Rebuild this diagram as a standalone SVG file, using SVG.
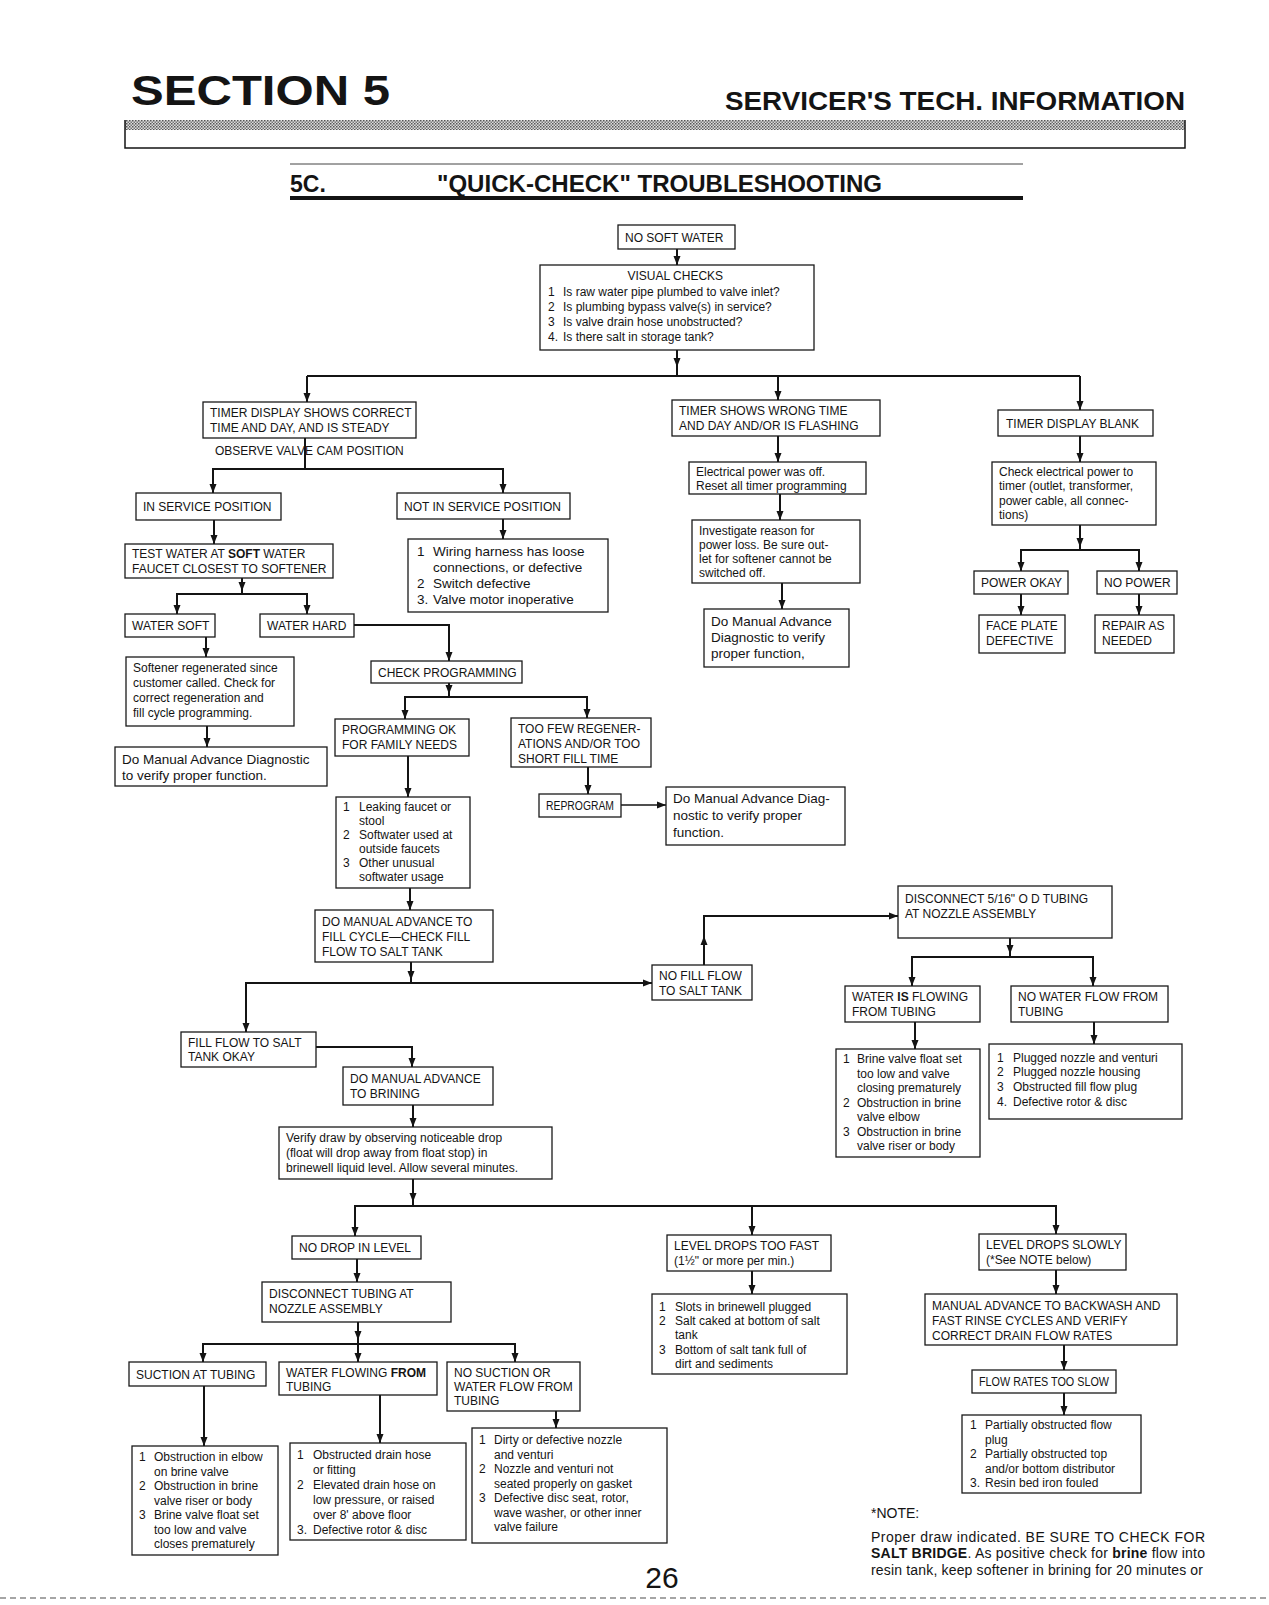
<svg xmlns="http://www.w3.org/2000/svg" width="1269" height="1605" viewBox="0 0 1269 1605">
<defs>
<style>
.b{fill:#fff;stroke:#1a1a1a;stroke-width:1.3}
.t{font-family:"Liberation Sans",Arial,sans-serif;font-size:12px;fill:#141414}
.m{font-size:13.5px}
.h{font-family:"Liberation Sans",Arial,sans-serif;font-weight:bold;fill:#141414}
.c{fill:none;stroke:#141414;stroke-width:2}
.thin{stroke-width:1.3}
.bd{font-weight:bold}
.note{font-family:"Liberation Sans",Arial,sans-serif;font-size:14px;fill:#141414}
</style>
<marker id="ah" markerUnits="userSpaceOnUse" markerWidth="10" markerHeight="8" refX="9" refY="4" orient="auto"><path d="M0,0.5 L9,4 L0,7.5 z" fill="#141414"/></marker>
<pattern id="ht" width="3" height="3" patternUnits="userSpaceOnUse"><rect width="3" height="3" fill="#ddd"/><rect width="1.5" height="1.5" fill="#555"/><rect x="1.5" y="1.5" width="1.5" height="1.5" fill="#777"/></pattern>
</defs>
<rect width="1269" height="1605" fill="#fff"/>

<g id="header">
<text class="h" x="131" y="105" font-size="42" textLength="259" lengthAdjust="spacingAndGlyphs">SECTION 5</text>
<text class="h" x="725" y="110" font-size="25" textLength="460" lengthAdjust="spacingAndGlyphs">SERVICER'S TECH. INFORMATION</text>
<rect x="125" y="120" width="1060" height="10" fill="url(#ht)"/>
<path d="M125,120 V148 H1185 V120" fill="none" stroke="#141414" stroke-width="1.5"/>
<line x1="290" y1="164" x2="1023" y2="164" stroke="#444" stroke-width="1"/>
<text class="h" x="290" y="192" font-size="23">5C.</text>
<text class="h" x="437" y="192" font-size="23" textLength="445" lengthAdjust="spacingAndGlyphs">"QUICK-CHECK" TROUBLESHOOTING</text>
<rect x="290" y="196" width="733" height="4" fill="#141414"/>
</g>

<g id="connectors">
<path class="c" d="M677,249 V265" marker-end="url(#ah)"/>
<path class="c" d="M677,350 L677,367 L677,376" marker-mid="url(#ah)"/>
<path class="c" d="M307,376 H1080"/>
<path class="c" d="M307,376 V402" marker-end="url(#ah)"/>
<path class="c" d="M778,376 V400" marker-end="url(#ah)"/>
<path class="c" d="M1080,376 V410" marker-end="url(#ah)"/>
<path class="c" d="M305,438 V469"/>
<path class="c" d="M305,469 H213 V493" marker-end="url(#ah)"/>
<path class="c" d="M305,469 H503 V493" marker-end="url(#ah)"/>
<path class="c" d="M214,520 V544" marker-end="url(#ah)"/>
<path class="c" d="M503,519 V539" marker-end="url(#ah)"/>
<path class="c" d="M242,578 L242,591 L242,594" marker-mid="url(#ah)"/>
<path class="c" d="M242,594 H177 V614" marker-end="url(#ah)"/>
<path class="c" d="M242,594 H307 V614" marker-end="url(#ah)"/>
<path class="c" d="M206,637 V657" marker-end="url(#ah)"/>
<path class="c" d="M207,726 V747" marker-end="url(#ah)"/>
<path class="c" d="M354,625 H449 V661" marker-end="url(#ah)"/>
<path class="c" d="M449,683 L449,694 L449,697" marker-mid="url(#ah)"/>
<path class="c" d="M449,697 H405 V719" marker-end="url(#ah)"/>
<path class="c" d="M449,697 H587 V718" marker-end="url(#ah)"/>
<path class="c" d="M408,756 V797" marker-end="url(#ah)"/>
<path class="c" d="M588,767 V794" marker-end="url(#ah)"/>
<path class="c thin" d="M621,805 H666" marker-end="url(#ah)"/>
<path class="c" d="M410,888 V910" marker-end="url(#ah)"/>
<path class="c" d="M778,436 V462" marker-end="url(#ah)"/>
<path class="c" d="M780,494 V520" marker-end="url(#ah)"/>
<path class="c" d="M782,583 V609" marker-end="url(#ah)"/>
<path class="c" d="M1080,436 V462" marker-end="url(#ah)"/>
<path class="c" d="M1080,525 L1080,547 L1080,550" marker-mid="url(#ah)"/>
<path class="c" d="M1080,550 H1021 V571" marker-end="url(#ah)"/>
<path class="c" d="M1080,550 H1139 V571" marker-end="url(#ah)"/>
<path class="c" d="M1021,594 V615" marker-end="url(#ah)"/>
<path class="c" d="M1139,594 V615" marker-end="url(#ah)"/>
<path class="c" d="M411,962 L411,980 L411,983" marker-mid="url(#ah)"/>
<path class="c" d="M411,983 H246 V1032" marker-end="url(#ah)"/>
<path class="c" d="M411,983 H652" marker-end="url(#ah)"/>
<path class="c" d="M704,965 V936" marker-end="url(#ah)"/>
<path class="c" d="M704,938 V916 H898" marker-end="url(#ah)"/>
<path class="c" d="M1010,938 L1010,954 L1010,957" marker-mid="url(#ah)"/>
<path class="c" d="M1010,957 H912 V986" marker-end="url(#ah)"/>
<path class="c" d="M1010,957 H1093 V986" marker-end="url(#ah)"/>
<path class="c" d="M915,1022 V1049" marker-end="url(#ah)"/>
<path class="c" d="M1094,1022 V1044" marker-end="url(#ah)"/>
<path class="c" d="M316,1047 H412 V1067" marker-end="url(#ah)"/>
<path class="c" d="M413,1105 V1127" marker-end="url(#ah)"/>
<path class="c" d="M413,1179 L413,1202 L413,1206" marker-mid="url(#ah)"/>
<path class="c" d="M413,1206 H355 V1236" marker-end="url(#ah)"/>
<path class="c" d="M413,1206 H1056 V1234" marker-end="url(#ah)"/>
<path class="c" d="M752,1206 V1235" marker-end="url(#ah)"/>
<path class="c" d="M357,1259 V1282" marker-end="url(#ah)"/>
<path class="c" d="M358,1322 L358,1340 L358,1362" marker-mid="url(#ah)" marker-end="url(#ah)"/>
<path class="c" d="M358,1344 H203 V1362" marker-end="url(#ah)"/>
<path class="c" d="M358,1344 H515 V1362" marker-end="url(#ah)"/>
<path class="c" d="M204,1386 V1446" marker-end="url(#ah)"/>
<path class="c" d="M380,1395 V1443" marker-end="url(#ah)"/>
<path class="c" d="M556,1411 V1428" marker-end="url(#ah)"/>
<path class="c" d="M752,1271 V1294" marker-end="url(#ah)"/>
<path class="c" d="M1056,1270 V1294" marker-end="url(#ah)"/>
<path class="c" d="M1064,1345 V1370" marker-end="url(#ah)"/>
<path class="c" d="M1064,1393 V1415" marker-end="url(#ah)"/>
</g>

<g id="n-nosoft"><rect class="b" x="618" y="225" width="117" height="24"/><text class="t" x="625" y="242">NO SOFT WATER</text></g>

<g id="n-visual"><rect class="b" x="540" y="265" width="274" height="85"/>
<text class="t"><tspan x="677" y="280" text-anchor="middle">VISUAL CHECKS</tspan>
<tspan x="548" y="296">1</tspan><tspan x="563" y="296">Is raw water pipe plumbed to valve inlet?</tspan>
<tspan x="548" y="311">2</tspan><tspan x="563" y="311">Is plumbing bypass valve(s) in service?</tspan>
<tspan x="548" y="326">3</tspan><tspan x="563" y="326">Is valve drain hose unobstructed?</tspan>
<tspan x="548" y="341">4.</tspan><tspan x="563" y="341">Is there salt in storage tank?</tspan></text></g>

<g id="n-timerok"><rect class="b" x="203" y="402" width="213" height="36"/>
<text class="t"><tspan x="210" y="417">TIMER DISPLAY SHOWS CORRECT</tspan><tspan x="210" y="432">TIME AND DAY, AND IS STEADY</tspan></text></g>

<g id="l-observe"><text class="t" x="215" y="455">OBSERVE VALVE CAM POSITION</text></g>

<g id="n-inservice"><rect class="b" x="136" y="493" width="145" height="27"/><text class="t" x="143" y="511">IN SERVICE POSITION</text></g>

<g id="n-notinservice"><rect class="b" x="397" y="493" width="173" height="26"/><text class="t" x="404" y="511">NOT IN SERVICE POSITION</text></g>

<g id="n-test"><rect class="b" x="125" y="544" width="208" height="34"/>
<text class="t"><tspan x="132" y="558">TEST WATER AT <tspan class="bd">SOFT</tspan> WATER</tspan><tspan x="132" y="573">FAUCET CLOSEST TO SOFTENER</tspan></text></g>

<g id="n-wiring"><rect class="b" x="408" y="539" width="200" height="73"/>
<text class="t m"><tspan x="417" y="556">1</tspan><tspan x="433" y="556">Wiring harness has loose</tspan>
<tspan x="433" y="572">connections, or defective</tspan>
<tspan x="417" y="588">2</tspan><tspan x="433" y="588">Switch defective</tspan>
<tspan x="417" y="604">3.</tspan><tspan x="433" y="604">Valve motor inoperative</tspan></text></g>

<g id="n-watersoft"><rect class="b" x="125" y="614" width="90" height="23"/><text class="t" x="132" y="630">WATER SOFT</text></g>

<g id="n-waterhard"><rect class="b" x="260" y="614" width="94" height="23"/><text class="t" x="267" y="630">WATER HARD</text></g>

<g id="n-softener"><rect class="b" x="126" y="657" width="168" height="69"/>
<text class="t"><tspan x="133" y="672">Softener regenerated since</tspan><tspan x="133" y="687">customer called. Check for</tspan><tspan x="133" y="702">correct regeneration and</tspan><tspan x="133" y="717">fill cycle programming.</tspan></text></g>

<g id="n-domanual-left"><rect class="b" x="115" y="747" width="212" height="39"/>
<text class="t m"><tspan x="122" y="764">Do Manual Advance Diagnostic</tspan><tspan x="122" y="780">to verify proper function.</tspan></text></g>

<g id="n-checkprog"><rect class="b" x="371" y="661" width="151" height="22"/><text class="t" x="378" y="677">CHECK PROGRAMMING</text></g>

<g id="n-progok"><rect class="b" x="335" y="719" width="134" height="37"/>
<text class="t"><tspan x="342" y="734">PROGRAMMING OK</tspan><tspan x="342" y="749">FOR FAMILY NEEDS</tspan></text></g>

<g id="n-toofew"><rect class="b" x="511" y="718" width="140" height="49"/>
<text class="t"><tspan x="518" y="733">TOO FEW REGENER-</tspan><tspan x="518" y="748">ATIONS AND/OR TOO</tspan><tspan x="518" y="763">SHORT FILL TIME</tspan></text></g>

<g id="n-reprogram"><rect class="b" x="539" y="794" width="82" height="23"/><text class="t" x="546" y="810" textLength="68" lengthAdjust="spacingAndGlyphs">REPROGRAM</text></g>

<g id="n-domanual-mid"><rect class="b" x="666" y="787" width="179" height="58"/>
<text class="t m"><tspan x="673" y="803">Do Manual Advance Diag-</tspan><tspan x="673" y="820">nostic to verify proper</tspan><tspan x="673" y="837">function.</tspan></text></g>

<g id="n-leaking"><rect class="b" x="336" y="797" width="134" height="91"/>
<text class="t"><tspan x="343" y="811">1</tspan><tspan x="359" y="811">Leaking faucet or</tspan>
<tspan x="359" y="825">stool</tspan>
<tspan x="343" y="839">2</tspan><tspan x="359" y="839">Softwater used at</tspan>
<tspan x="359" y="853">outside faucets</tspan>
<tspan x="343" y="867">3</tspan><tspan x="359" y="867">Other unusual</tspan>
<tspan x="359" y="881">softwater usage</tspan></text></g>

<g id="n-fill"><rect class="b" x="315" y="910" width="178" height="52"/>
<text class="t"><tspan x="322" y="926">DO MANUAL ADVANCE TO</tspan><tspan x="322" y="941">FILL CYCLE—CHECK FILL</tspan><tspan x="322" y="956">FLOW TO SALT TANK</tspan></text></g>

<g id="n-timerwrong"><rect class="b" x="672" y="400" width="208" height="36"/>
<text class="t"><tspan x="679" y="415">TIMER SHOWS WRONG TIME</tspan><tspan x="679" y="430">AND DAY AND/OR IS FLASHING</tspan></text></g>

<g id="n-electrical"><rect class="b" x="689" y="462" width="177" height="32"/>
<text class="t"><tspan x="696" y="476">Electrical power was off.</tspan><tspan x="696" y="490">Reset all timer programming</tspan></text></g>

<g id="n-investigate"><rect class="b" x="692" y="520" width="168" height="63"/>
<text class="t"><tspan x="699" y="535">Investigate reason for</tspan><tspan x="699" y="549">power loss. Be sure out-</tspan><tspan x="699" y="563">let for softener cannot be</tspan><tspan x="699" y="577">switched off.</tspan></text></g>

<g id="n-domanual-right"><rect class="b" x="704" y="609" width="145" height="58"/>
<text class="t m"><tspan x="711" y="626">Do Manual Advance</tspan><tspan x="711" y="642">Diagnostic to verify</tspan><tspan x="711" y="658">proper function,</tspan></text></g>

<g id="n-blank"><rect class="b" x="998" y="410" width="155" height="26"/><text class="t" x="1006" y="428">TIMER DISPLAY BLANK</text></g>

<g id="n-checkpower"><rect class="b" x="992" y="462" width="164" height="63"/>
<text class="t"><tspan x="999" y="476">Check electrical power to</tspan><tspan x="999" y="490">timer (outlet, transformer,</tspan><tspan x="999" y="505">power cable, all connec-</tspan><tspan x="999" y="519">tions)</tspan></text></g>

<g id="n-powerok"><rect class="b" x="974" y="571" width="94" height="23"/><text class="t" x="981" y="587">POWER OKAY</text></g>
<g id="n-nopower"><rect class="b" x="1097" y="571" width="80" height="23"/><text class="t" x="1104" y="587">NO POWER</text></g>
<g id="n-faceplate"><rect class="b" x="979" y="615" width="86" height="38"/><text class="t"><tspan x="986" y="630">FACE PLATE</tspan><tspan x="986" y="645">DEFECTIVE</tspan></text></g>
<g id="n-repair"><rect class="b" x="1095" y="615" width="79" height="38"/><text class="t"><tspan x="1102" y="630">REPAIR AS</tspan><tspan x="1102" y="645">NEEDED</tspan></text></g>

<g id="n-nofill"><rect class="b" x="652" y="965" width="100" height="35"/><text class="t"><tspan x="659" y="980">NO FILL FLOW</tspan><tspan x="659" y="995">TO SALT TANK</tspan></text></g>

<g id="n-disc516"><rect class="b" x="898" y="886" width="214" height="52"/><text class="t"><tspan x="905" y="903">DISCONNECT 5/16" O D  TUBING</tspan><tspan x="905" y="918">AT NOZZLE ASSEMBLY</tspan></text></g>

<g id="n-fillok"><rect class="b" x="181" y="1032" width="135" height="35"/><text class="t"><tspan x="188" y="1047">FILL FLOW TO SALT</tspan><tspan x="188" y="1061">TANK OKAY</tspan></text></g>

<g id="n-brining"><rect class="b" x="343" y="1067" width="150" height="38"/><text class="t"><tspan x="350" y="1083">DO MANUAL ADVANCE</tspan><tspan x="350" y="1098">TO BRINING</tspan></text></g>

<g id="n-verify"><rect class="b" x="279" y="1127" width="273" height="52"/><text class="t"><tspan x="286" y="1142">Verify draw by observing noticeable drop</tspan><tspan x="286" y="1157">(float will drop away from float stop) in</tspan><tspan x="286" y="1172">brinewell liquid level. Allow several minutes.</tspan></text></g>

<g id="n-wateris"><rect class="b" x="845" y="986" width="135" height="36"/><text class="t"><tspan x="852" y="1001">WATER <tspan class="bd">IS</tspan> FLOWING</tspan><tspan x="852" y="1016">FROM TUBING</tspan></text></g>

<g id="n-nowater"><rect class="b" x="1011" y="986" width="157" height="36"/><text class="t"><tspan x="1018" y="1001">NO WATER FLOW FROM</tspan><tspan x="1018" y="1016">TUBING</tspan></text></g>

<g id="n-brinelist"><rect class="b" x="836" y="1049" width="144" height="108"/>
<text class="t"><tspan x="843" y="1063">1</tspan><tspan x="857" y="1063">Brine valve float set</tspan>
<tspan x="857" y="1077.5">too low and valve</tspan>
<tspan x="857" y="1092">closing prematurely</tspan>
<tspan x="843" y="1106.5">2</tspan><tspan x="857" y="1106.5">Obstruction in brine</tspan>
<tspan x="857" y="1121">valve elbow</tspan>
<tspan x="843" y="1135.5">3</tspan><tspan x="857" y="1135.5">Obstruction in brine</tspan>
<tspan x="857" y="1150">valve riser or body</tspan></text></g>

<g id="n-pluggedlist"><rect class="b" x="989" y="1044" width="193" height="75"/>
<text class="t"><tspan x="997" y="1062">1</tspan><tspan x="1013" y="1062">Plugged nozzle and venturi</tspan>
<tspan x="997" y="1076">2</tspan><tspan x="1013" y="1076">Plugged nozzle housing</tspan>
<tspan x="997" y="1091">3</tspan><tspan x="1013" y="1091">Obstructed fill flow plug</tspan>
<tspan x="997" y="1106">4.</tspan><tspan x="1013" y="1106">Defective rotor &amp; disc</tspan></text></g>

<g id="n-nodrop"><rect class="b" x="292" y="1236" width="129" height="23"/><text class="t" x="299" y="1252">NO DROP IN LEVEL</text></g>

<g id="n-toofast"><rect class="b" x="667" y="1235" width="164" height="36"/><text class="t"><tspan x="674" y="1250">LEVEL DROPS TOO FAST</tspan><tspan x="674" y="1265">(1½" or more per min.)</tspan></text></g>

<g id="n-slowly"><rect class="b" x="979" y="1234" width="147" height="36"/><text class="t"><tspan x="986" y="1249">LEVEL DROPS SLOWLY</tspan><tspan x="986" y="1264">(*See NOTE below)</tspan></text></g>

<g id="n-disctubing"><rect class="b" x="262" y="1282" width="189" height="40"/><text class="t"><tspan x="269" y="1298">DISCONNECT TUBING AT</tspan><tspan x="269" y="1313">NOZZLE ASSEMBLY</tspan></text></g>

<g id="n-slots"><rect class="b" x="652" y="1294" width="195" height="80"/>
<text class="t"><tspan x="659" y="1311">1</tspan><tspan x="675" y="1311">Slots in brinewell plugged</tspan>
<tspan x="659" y="1325">2</tspan><tspan x="675" y="1325">Salt caked at bottom of salt</tspan>
<tspan x="675" y="1339">tank</tspan>
<tspan x="659" y="1354">3</tspan><tspan x="675" y="1354">Bottom of salt tank full of</tspan>
<tspan x="675" y="1368">dirt and sediments</tspan></text></g>

<g id="n-backwash"><rect class="b" x="925" y="1294" width="252" height="51"/><text class="t" font-size="12.5"><tspan x="932" y="1310">MANUAL ADVANCE TO BACKWASH AND</tspan><tspan x="932" y="1325">FAST RINSE CYCLES AND VERIFY</tspan><tspan x="932" y="1340">CORRECT DRAIN FLOW RATES</tspan></text></g>

<g id="n-suction"><rect class="b" x="129" y="1362" width="137" height="24"/><text class="t" x="136" y="1379">SUCTION AT TUBING</text></g>

<g id="n-flowingfrom"><rect class="b" x="279" y="1362" width="158" height="33"/><text class="t"><tspan x="286" y="1377">WATER FLOWING <tspan class="bd">FROM</tspan></tspan><tspan x="286" y="1391">TUBING</tspan></text></g>

<g id="n-nosuction"><rect class="b" x="447" y="1362" width="133" height="49"/><text class="t"><tspan x="454" y="1377">NO SUCTION OR</tspan><tspan x="454" y="1391">WATER FLOW FROM</tspan><tspan x="454" y="1405">TUBING</tspan></text></g>

<g id="n-flowslow"><rect class="b" x="972" y="1370" width="144" height="23"/><text class="t" x="979" y="1386" textLength="130" lengthAdjust="spacingAndGlyphs">FLOW RATES TOO SLOW</text></g>

<g id="n-partially"><rect class="b" x="962" y="1415" width="179" height="78"/>
<text class="t"><tspan x="970" y="1429">1</tspan><tspan x="985" y="1429">Partially obstructed flow</tspan>
<tspan x="985" y="1443.5">plug</tspan>
<tspan x="970" y="1458">2</tspan><tspan x="985" y="1458">Partially obstructed top</tspan>
<tspan x="985" y="1472.5">and/or bottom distributor</tspan>
<tspan x="970" y="1487">3.</tspan><tspan x="985" y="1487">Resin bed iron fouled</tspan></text></g>

<g id="n-list1"><rect class="b" x="132" y="1446" width="146" height="109"/>
<text class="t"><tspan x="139" y="1461">1</tspan><tspan x="154" y="1461">Obstruction in elbow</tspan>
<tspan x="154" y="1475.5">on brine valve</tspan>
<tspan x="139" y="1490">2</tspan><tspan x="154" y="1490">Obstruction in brine</tspan>
<tspan x="154" y="1504.5">valve riser or body</tspan>
<tspan x="139" y="1519">3</tspan><tspan x="154" y="1519">Brine valve float set</tspan>
<tspan x="154" y="1533.5">too low and valve</tspan>
<tspan x="154" y="1548">closes prematurely</tspan></text></g>

<g id="n-list2"><rect class="b" x="290" y="1443" width="176" height="97"/>
<text class="t"><tspan x="297" y="1459">1</tspan><tspan x="313" y="1459">Obstructed drain hose</tspan>
<tspan x="313" y="1474">or fitting</tspan>
<tspan x="297" y="1489">2</tspan><tspan x="313" y="1489">Elevated drain hose on</tspan>
<tspan x="313" y="1504">low pressure, or raised</tspan>
<tspan x="313" y="1519">over 8' above floor</tspan>
<tspan x="297" y="1534">3.</tspan><tspan x="313" y="1534">Defective rotor &amp; disc</tspan></text></g>

<g id="n-list3"><rect class="b" x="472" y="1428" width="195" height="115"/>
<text class="t"><tspan x="479" y="1444">1</tspan><tspan x="494" y="1444">Dirty or defective nozzle</tspan>
<tspan x="494" y="1458.5">and venturi</tspan>
<tspan x="479" y="1473">2</tspan><tspan x="494" y="1473">Nozzle and venturi not</tspan>
<tspan x="494" y="1487.5">seated properly on gasket</tspan>
<tspan x="479" y="1502">3</tspan><tspan x="494" y="1502">Defective disc seat, rotor,</tspan>
<tspan x="494" y="1516.5">wave washer, or other inner</tspan>
<tspan x="494" y="1531">valve failure</tspan></text></g>

<g id="note">
<text class="note" x="871" y="1518">*NOTE:</text>
<text class="note" x="871" y="1542" textLength="334" lengthAdjust="spacing">Proper draw indicated.  BE SURE TO CHECK FOR</text>
<text class="note" x="871" y="1558" textLength="334" lengthAdjust="spacing"><tspan class="bd">SALT BRIDGE</tspan>.  As positive check for <tspan class="bd">brine</tspan> flow into</text>
<text class="note" x="871" y="1575" textLength="332" lengthAdjust="spacing">resin tank, keep softener in brining for 20  minutes or</text>
</g>

<g id="footer">
<text class="h" x="662" y="1588" font-size="30" text-anchor="middle" style="font-weight:normal">26</text>
<line x1="0" y1="1598" x2="1269" y2="1598" stroke="#888" stroke-width="1.5" stroke-dasharray="6 4"/>
</g>
</svg>
